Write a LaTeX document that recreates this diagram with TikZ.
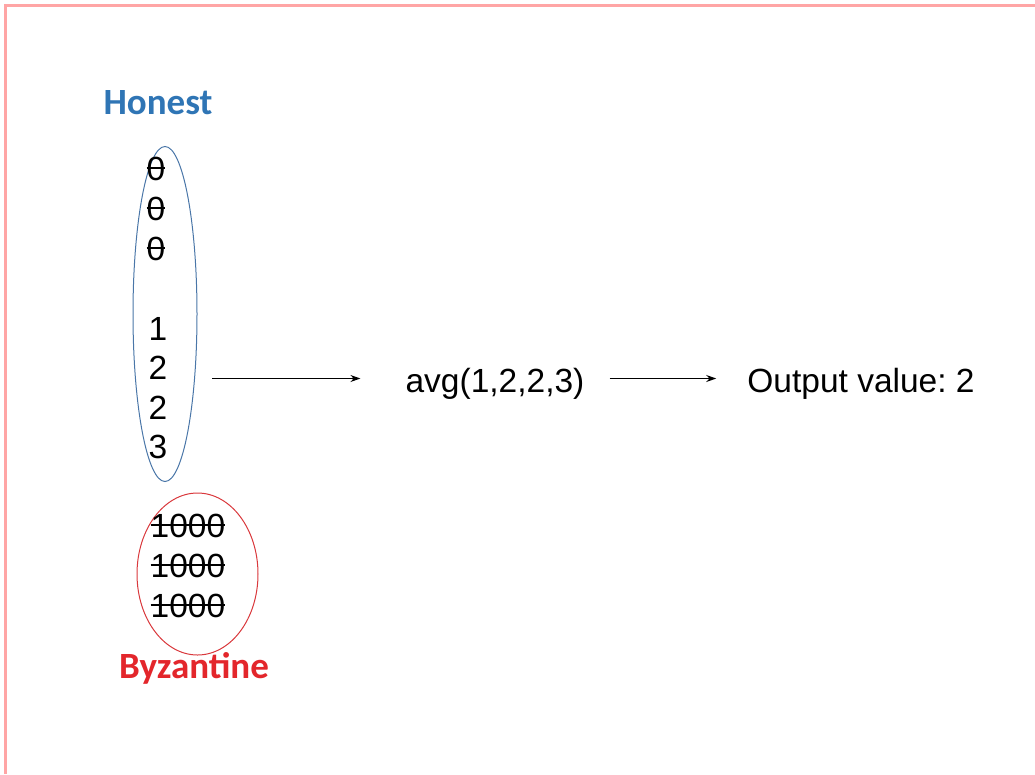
\documentclass[tikz,border=0pt]{standalone}
\usepackage{fontspec}
\setmainfont{Liberation Sans}
\newfontfamily\calibri{Carlito}
\frenchspacing
\newcommand{\struck}[1]{\setbox0=\hbox{#1}\rlap{\copy0}\rule[0.33em]{\wd0}{1.6pt}}
\usetikzlibrary{arrows.meta,shapes.geometric}
\definecolor{honestblue}{HTML}{2F75B5}
\definecolor{ringblue}{HTML}{4A76A8}
\definecolor{byzred}{HTML}{E3262B}
\definecolor{ringred}{HTML}{D9383C}
\definecolor{borderpink}{HTML}{FFA5A5}

\begin{document}
\begin{tikzpicture}[x=1pt,y=-1pt]
\tikzset{
  valuenode/.style={inner sep=0pt,font=\fontsize{33.5}{40}\selectfont,text height=24pt,text depth=0pt},
  labelnode/.style={inner sep=0pt,anchor=base,font=\calibri\bfseries\fontsize{37}{44}\selectfont},
  textnode/.style={inner sep=0pt,anchor=base,font=\fontsize{33.5}{40}\selectfont},
  groupring/.style={ellipse,line width=1pt,inner sep=0pt},
  flow/.style={draw=black,line width=1.3pt,-{Stealth[length=10pt,width=7pt]}}
}
\useasboundingbox (0,0) rectangle (1035,774);
\draw[draw=borderpink,line width=3pt] (5.5,774) -- (5.5,5.5) -- (1035,5.5);
% groups
\node[groupring,draw=ringblue,minimum width=64pt,minimum height=335pt] (n_honest) at (165,314) {};
\node[groupring,draw=ringred,minimum width=121pt,minimum height=162pt] (n_byz) at (197.5,574) {};
\node[labelnode,text=honestblue] (n_honestlbl) at (158,114) {Honest};
\node[labelnode,text=byzred] (n_byzlbl) at (194,678) {Byzantine};
% values
\foreach \y [count=\i] in {168,208,248}
  \node[valuenode] (n_zero\i) at (156,\y) {\struck{0}};
\foreach \d/\y [count=\i] in {1/328,2/367,2/407,3/446}
  \node[valuenode] (n_val\i) at (158,\y) {\d};
\foreach \y [count=\i] in {525,565,605}
  \node[valuenode] (n_bad\i) at (188,\y) {\struck{1000}};
% result
\node[textnode] (n_avg) at (495,392) {avg(1,2,2,3)};
\node[textnode] (n_out) at (861,392) {Output value: 2};
\coordinate (n_in) at (212,378.5);
\draw[flow] (n_in) -- ([xshift=-45pt]n_avg.west |- n_in);
\draw[flow] ([xshift=25pt]n_avg.east |- n_in) -- ([xshift=-31pt]n_out.west |- n_in);
\end{tikzpicture}
\end{document}
